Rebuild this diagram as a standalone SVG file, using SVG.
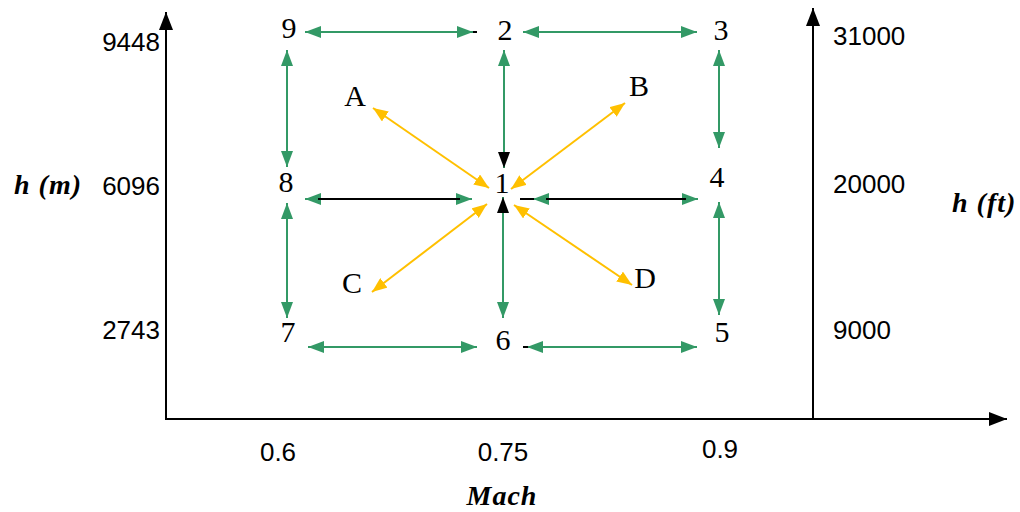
<svg xmlns="http://www.w3.org/2000/svg" width="1020" height="512" viewBox="0 0 1020 512">
<style>
.node{font-family:"Liberation Serif","Times New Roman",serif;font-size:30px;fill:#000;text-anchor:middle}
.val{font-family:"Liberation Sans",Arial,sans-serif;font-size:26px;fill:#000}
.ttl{font-family:"Liberation Serif","Times New Roman",serif;font-weight:bold;font-style:italic;font-size:28px;fill:#000;letter-spacing:1px}
.g{stroke:#339966;stroke-width:2;fill:none}
.k{stroke:#000;stroke-width:2;fill:none}
.y{stroke:#ffc000;stroke-width:2;fill:none}
.ax{stroke:#000;stroke-width:2;fill:none}
</style>
<defs>
<marker id="mg" viewBox="0 0 16 12" refX="16" refY="6" markerWidth="16" markerHeight="12" markerUnits="userSpaceOnUse" orient="auto-start-reverse"><path d="M0,0 L16,6 L0,12 z" fill="#339966"/></marker>
<marker id="mk" viewBox="0 0 16 12" refX="16" refY="6" markerWidth="16" markerHeight="12" markerUnits="userSpaceOnUse" orient="auto-start-reverse"><path d="M0,0 L16,6 L0,12 z" fill="#000"/></marker>
<marker id="my" viewBox="0 0 15 12" refX="15" refY="6" markerWidth="15" markerHeight="12" markerUnits="userSpaceOnUse" orient="auto-start-reverse"><path d="M0,0 L15,6 L0,12 z" fill="#ffc000"/></marker>
<marker id="ma" viewBox="0 0 18 14" refX="18" refY="7" markerWidth="18" markerHeight="14" markerUnits="userSpaceOnUse" orient="auto"><path d="M0,0 L18,7 L0,14 z" fill="#000"/></marker>
</defs>
<rect width="1020" height="512" fill="#fff"/>
<g id="axes">
<line class="ax" x1="166" y1="420" x2="166" y2="12" marker-end="url(#ma)"/>
<line class="ax" x1="165" y1="419" x2="1007" y2="419" marker-end="url(#ma)"/>
<line class="ax" x1="813" y1="419" x2="813" y2="8" marker-end="url(#ma)"/>
</g>
<g id="axis-labels">
<text class="val" x="160" y="51" text-anchor="end">9448</text>
<text class="val" x="160" y="195" text-anchor="end">6096</text>
<text class="val" x="160" y="339" text-anchor="end">2743</text>
<text class="val" x="833" y="45">31000</text>
<text class="val" x="833" y="193">20000</text>
<text class="val" x="833" y="339">9000</text>
<text class="val" x="278" y="461" text-anchor="middle">0.6</text>
<text class="val" x="503" y="461" text-anchor="middle">0.75</text>
<text class="val" x="720" y="458" text-anchor="middle">0.9</text>
<text class="ttl" x="14" y="194">h (m)</text>
<text class="ttl" x="952" y="212">h (ft)</text>
<text class="ttl" x="502" y="505" text-anchor="middle" font-size="30" letter-spacing="2">Mach</text>
</g>
<g id="connectors">
<line class="g" x1="305" y1="32" x2="473" y2="32" marker-start="url(#mg)" marker-end="url(#mg)"/>
<line class="k" x1="473" y1="32" x2="477" y2="32" stroke-width="1.5"/>
<line class="g" x1="523" y1="32" x2="697" y2="32" marker-start="url(#mg)" marker-end="url(#mg)"/>
<line class="g" x1="287" y1="50" x2="287" y2="167" marker-start="url(#mg)" marker-end="url(#mg)"/>
<line class="g" x1="504" y1="50" x2="504" y2="152" marker-start="url(#mg)"/>
<line class="g" x1="504" y1="150" x2="504" y2="168" marker-end="url(#mk)"/>
<line class="g" x1="719" y1="50" x2="719" y2="148" marker-start="url(#mg)" marker-end="url(#mg)"/>
<line class="g" x1="305" y1="199" x2="472" y2="199" stroke-width="3" marker-start="url(#mg)" marker-end="url(#mg)"/>
<line class="k" x1="318" y1="199" x2="460" y2="199"/>
<line class="g" x1="533" y1="199" x2="698" y2="199" stroke-width="3" marker-start="url(#mg)" marker-end="url(#mg)"/>
<line class="k" x1="520" y1="199" x2="534" y2="199"/>
<line class="k" x1="546" y1="199" x2="686" y2="199"/>
<line class="g" x1="287" y1="203" x2="287" y2="318" marker-start="url(#mg)" marker-end="url(#mg)"/>
<line class="g" x1="503" y1="212" x2="503" y2="318" marker-end="url(#mg)"/>
<line class="g" x1="503" y1="214" x2="503" y2="197" marker-end="url(#mk)"/>
<line class="g" x1="719" y1="202" x2="719" y2="315" marker-start="url(#mg)" marker-end="url(#mg)"/>
<line class="g" x1="308" y1="347" x2="477" y2="347" marker-start="url(#mg)" marker-end="url(#mg)"/>
<line class="g" x1="527" y1="347" x2="697" y2="347" marker-start="url(#mg)" marker-end="url(#mg)"/>
<line class="k" x1="523" y1="347" x2="528" y2="347" stroke-width="1.5"/>
<line class="y" x1="373" y1="108" x2="489" y2="188" marker-start="url(#my)" marker-end="url(#my)"/>
<line class="y" x1="625" y1="103" x2="511" y2="189" marker-start="url(#my)" marker-end="url(#my)"/>
<line class="y" x1="372" y1="292" x2="487" y2="204" marker-start="url(#my)" marker-end="url(#my)"/>
<line class="y" x1="632" y1="285" x2="514" y2="205" marker-start="url(#my)" marker-end="url(#my)"/>
</g>
<g id="n9"><text class="node" x="289" y="38">9</text></g>
<g id="n2"><text class="node" x="505" y="40">2</text></g>
<g id="n3"><text class="node" x="721" y="40">3</text></g>
<g id="n8"><text class="node" x="286" y="192">8</text></g>
<g id="n1"><text class="node" x="502" y="193">1</text></g>
<g id="n4"><text class="node" x="717" y="187">4</text></g>
<g id="n7"><text class="node" x="288" y="342">7</text></g>
<g id="n6"><text class="node" x="503" y="350">6</text></g>
<g id="n5"><text class="node" x="722" y="342">5</text></g>
<g id="nA"><text class="node" x="355" y="106">A</text></g>
<g id="nB"><text class="node" x="639" y="96">B</text></g>
<g id="nC"><text class="node" x="352" y="293">C</text></g>
<g id="nD"><text class="node" x="645" y="288">D</text></g>
</svg>
